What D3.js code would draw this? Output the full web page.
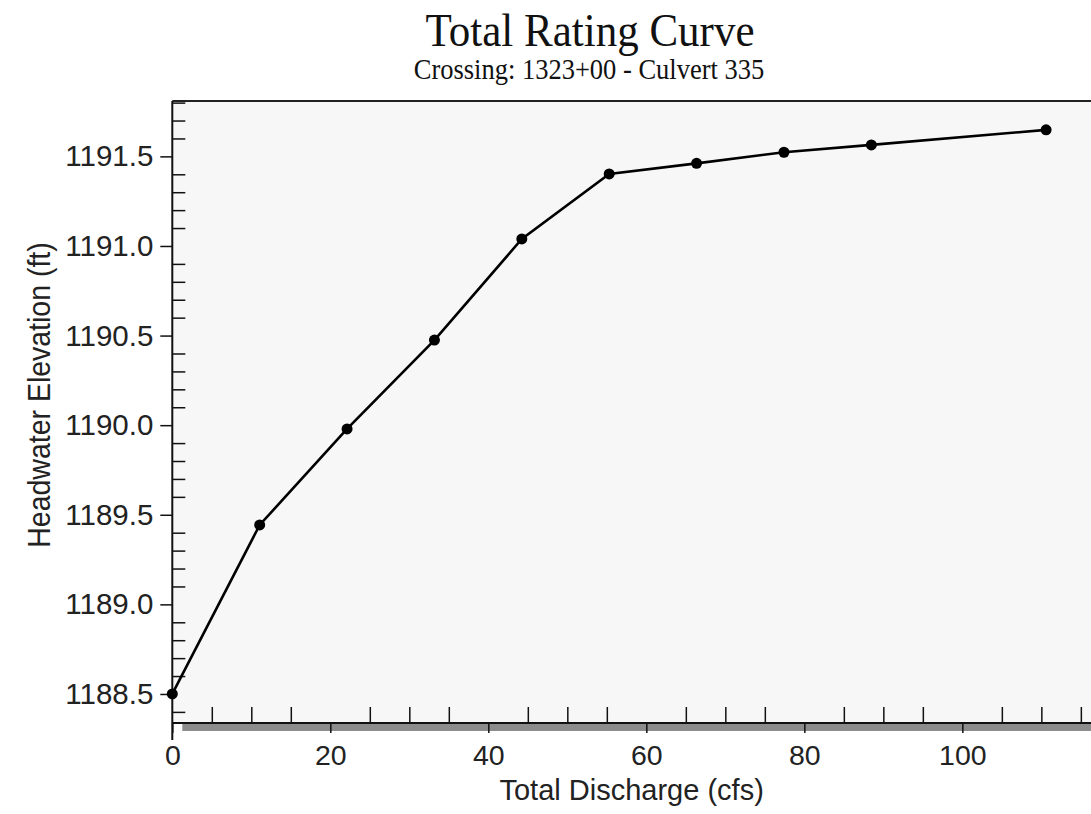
<!DOCTYPE html>
<html><head><meta charset="utf-8">
<script src="https://cdn.jsdelivr.net/npm/d3@7"></script>
<style>body{margin:0;background:#fff}svg{display:block}</style>
</head><body>
<script>
const discharge = [0, 11.06, 22.12, 33.18, 44.24, 55.30, 66.36, 77.42, 88.48, 110.6];
const elevation = [1188.50, 1189.443, 1189.979, 1190.475, 1191.039, 1191.402, 1191.461, 1191.523, 1191.564, 1191.648];
const xTicks = [0, 20, 40, 60, 80, 100];
const yTicks = [1188.5, 1189.0, 1189.5, 1190.0, 1190.5, 1191.0, 1191.5];
const title = "Total Rating Curve";
const subtitle = "Crossing: 1323+00 - Culvert 335";
const xTitle = "Total Discharge (cfs)";
const yTitle = "Headwater Elevation (ft)";

const W = 1091, H = 814;
const L = 172.3, R = 1092.7, T = 101, B = 723;
const svg = d3.select("body").append("svg").attr("width", W).attr("height", H);

const x = d3.scaleLinear().domain([0, 116.5]).range([L, R]);
const y = d3.scaleLinear().domain([1188.338, 1191.809]).range([B, T]);

svg.append("rect").attr("x", L).attr("y", T).attr("width", W - L).attr("height", B - T).attr("fill", "#f7f7f7");

// titles (source fonts look slightly vertically stretched)
svg.append("text").attr("transform", "translate(590,46) scale(1,1.08)").attr("text-anchor", "middle")
  .attr("font-family", "Liberation Serif, Times New Roman, serif").attr("font-size", 43)
  .attr("fill", "#111").text(title);
svg.append("text").attr("transform", "translate(589,79) scale(1,1.08)").attr("text-anchor", "middle")
  .attr("font-family", "Liberation Serif, Times New Roman, serif").attr("font-size", 26.5)
  .attr("fill", "#111").text(subtitle);

// gray shadow bar under x axis
svg.append("rect").attr("x", L + 10).attr("y", B).attr("width", W - L - 10).attr("height", 8).attr("fill", "#8c8c8c");

// top frame line
svg.append("line").attr("x1", L).attr("x2", W).attr("y1", T).attr("y2", T).attr("stroke", "#222").attr("stroke-width", 2);

// x axis: major ticks down, minor ticks up
const xAxis = d3.axisBottom(x).tickValues(xTicks).tickSize(10).tickPadding(12).tickFormat(d3.format("d"));
const gx = svg.append("g").attr("transform", `translate(0,${B})`).call(xAxis);
gx.select(".domain").attr("d", `M${L},0H${W + 5}`).attr("stroke", "#111").attr("stroke-width", 2);
gx.selectAll(".tick line").attr("stroke", "#111").attr("stroke-width", 1.5);
gx.selectAll(".tick text").attr("font-family", "Liberation Sans, Arial, sans-serif").attr("font-size", 28.5).attr("fill", "#222");
const xMinor = d3.range(5, 117, 5).filter(v => v % 20 !== 0);
const xMinorAxis = d3.axisTop(x).tickValues(xMinor).tickSize(16).tickFormat("");
const gxm = svg.append("g").attr("transform", `translate(0,${B})`).call(xMinorAxis);
gxm.select(".domain").remove();
gxm.selectAll(".tick line").attr("stroke", "#111").attr("stroke-width", 1.5);

// y axis: major ticks left, minor ticks right
const yAxis = d3.axisLeft(y).tickValues(yTicks).tickSize(12).tickPadding(7).tickFormat(d3.format(".1f"));
const gy = svg.append("g").attr("transform", `translate(${L},0)`).call(yAxis);
gy.select(".domain").attr("d", `M0,${T}V${B + 17}`).attr("stroke", "#111").attr("stroke-width", 2);
gy.selectAll(".tick line").attr("stroke", "#111").attr("stroke-width", 1.5);
gy.selectAll(".tick text").attr("font-family", "Liberation Sans, Arial, sans-serif").attr("font-size", 29.5).attr("fill", "#222");
const yMinor = d3.range(1188.4, 1191.85, 0.1).filter(v => Math.abs(v * 2 - Math.round(v * 2)) > 0.01);
const yMinorAxis = d3.axisRight(y).tickValues(yMinor).tickSize(13).tickFormat("");
const gym = svg.append("g").attr("transform", `translate(${L},0)`).call(yMinorAxis);
gym.select(".domain").remove();
gym.selectAll(".tick line").attr("stroke", "#111").attr("stroke-width", 1.5);

// axis titles
svg.append("text").attr("x", (L + W) / 2).attr("y", 800).attr("text-anchor", "middle")
  .attr("font-family", "Liberation Sans, Arial, sans-serif").attr("font-size", 29).attr("fill", "#222").text(xTitle);
svg.append("text").attr("transform", `translate(50,395) rotate(-90) scale(1,1.1)`).attr("text-anchor", "middle")
  .attr("font-family", "Liberation Sans, Arial, sans-serif").attr("font-size", 28.5).attr("fill", "#222").text(yTitle);

// data
const pts = discharge.map((d, i) => [d, elevation[i]]);
svg.append("path").datum(pts).attr("fill", "none").attr("stroke", "#000").attr("stroke-width", 2.6)
  .attr("d", d3.line().x(d => x(d[0])).y(d => y(d[1])));
svg.selectAll("circle.pt").data(pts).enter().append("circle").attr("class", "pt")
  .attr("cx", d => x(d[0])).attr("cy", d => y(d[1])).attr("r", 5.5).attr("fill", "#000");
</script>
</body></html>
